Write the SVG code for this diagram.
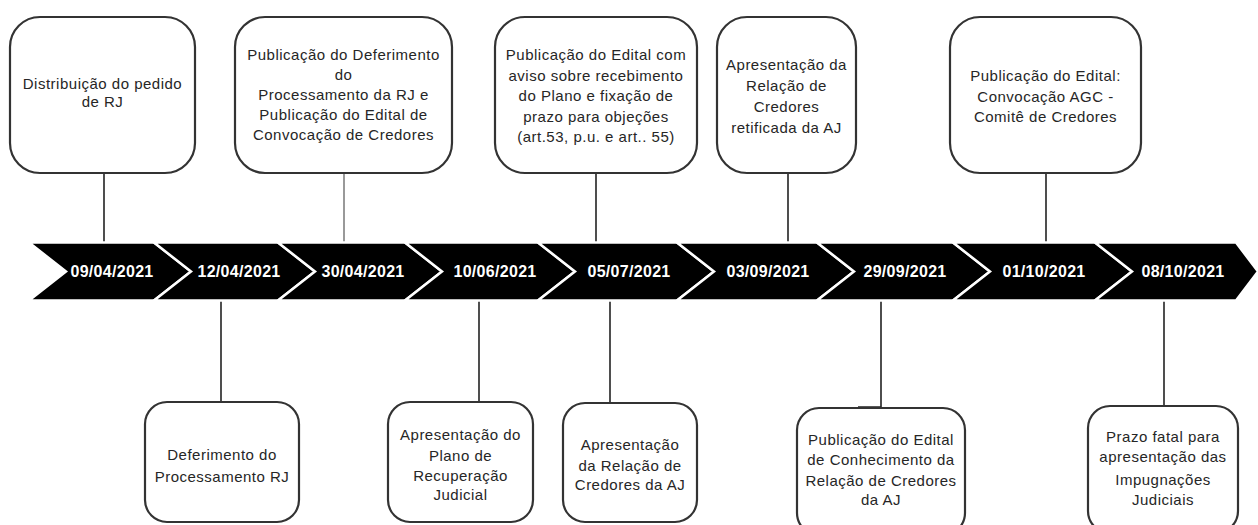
<svg xmlns="http://www.w3.org/2000/svg" width="1258" height="525" viewBox="0 0 1258 525">
<style>
.box{fill:#fff;stroke:#333;stroke-width:2.2}
.lbl{font-family:"Liberation Sans",Arial,sans-serif;font-size:15px;fill:#262626;text-anchor:middle;letter-spacing:0.5px}
.chev{fill:#000;stroke:#fff;stroke-width:2.5;stroke-linejoin:miter}
.date{font-family:"Liberation Sans",Arial,sans-serif;font-size:16px;font-weight:bold;fill:#fff;text-anchor:middle;letter-spacing:0.3px}
.con{fill:none;stroke:#222;stroke-width:1.6}
</style>
<rect width="1258" height="525" fill="#fff"/>
<g id="connectors">
<path class="con" d="M104,173V243"/>
<path class="con" d="M344,173V243" style="stroke:#999;stroke-width:2"/>
<path class="con" d="M596,173V243"/>
<path class="con" d="M788,173V243"/>
<path class="con" d="M1046,173V243"/>
<path class="con" d="M221,300V402"/>
<path class="con" d="M479,300V402"/>
<path class="con" d="M610,300V403"/>
<path class="con" d="M881,300V407H858"/>
<path class="con" d="M1164,300V406"/>
</g>
<g id="timeline">
<polygon class="chev" points="29,242.5 154,242.5 191,271.5 154,300.5 29,300.5 66,271.5"/>
<polygon class="chev" points="154,242.5 278,242.5 315,271.5 278,300.5 154,300.5 191,271.5"/>
<polygon class="chev" points="278,242.5 405,242.5 442,271.5 405,300.5 278,300.5 315,271.5"/>
<polygon class="chev" points="405,242.5 538,242.5 575,271.5 538,300.5 405,300.5 442,271.5"/>
<polygon class="chev" points="538,242.5 677,242.5 714,271.5 677,300.5 538,300.5 575,271.5"/>
<polygon class="chev" points="677,242.5 817,242.5 854,271.5 817,300.5 677,300.5 714,271.5"/>
<polygon class="chev" points="817,242.5 953,242.5 990,271.5 953,300.5 817,300.5 854,271.5"/>
<polygon class="chev" points="953,242.5 1095,242.5 1132,271.5 1095,300.5 953,300.5 990,271.5"/>
<polygon class="chev" points="1095,242.5 1236,242.5 1258,271.5 1236,300.5 1095,300.5 1132,271.5"/>
<text class="date" x="112" y="277">09/04/2021</text>
<text class="date" x="239" y="277">12/04/2021</text>
<text class="date" x="363" y="277">30/04/2021</text>
<text class="date" x="495" y="277">10/06/2021</text>
<text class="date" x="629" y="277">05/07/2021</text>
<text class="date" x="768" y="277">03/09/2021</text>
<text class="date" x="905" y="277">29/09/2021</text>
<text class="date" x="1044" y="277">01/10/2021</text>
<text class="date" x="1183" y="277">08/10/2021</text>
</g>
<g id="n1">
<rect class="box" x="10" y="17" width="185" height="156" rx="30"/>
<text class="lbl" x="102.5" y="89">Distribuição do pedido</text>
<text class="lbl" x="102.5" y="107">de RJ</text>
</g>
<g id="n2">
<rect class="box" x="235" y="17" width="217" height="156" rx="30"/>
<text class="lbl" x="343.5" y="60">Publicação do Deferimento</text>
<text class="lbl" x="343.5" y="80">do</text>
<text class="lbl" x="343.5" y="100">Processamento da RJ e</text>
<text class="lbl" x="343.5" y="120">Publicação do Edital de</text>
<text class="lbl" x="343.5" y="140">Convocação de Credores</text>
</g>
<g id="n3">
<rect class="box" x="495" y="17" width="202" height="156" rx="30"/>
<text class="lbl" x="596" y="60">Publicação do Edital com</text>
<text class="lbl" x="596" y="80.5">aviso sobre recebimento</text>
<text class="lbl" x="596" y="101">do Plano e fixação de</text>
<text class="lbl" x="596" y="121.5">prazo para objeções</text>
<text class="lbl" x="596" y="142">(art.53, p.u. e art.. 55)</text>
</g>
<g id="n4">
<rect class="box" x="717" y="17" width="139" height="156" rx="30"/>
<text class="lbl" x="786.5" y="70">Apresentação da</text>
<text class="lbl" x="786.5" y="91">Relação de</text>
<text class="lbl" x="786.5" y="112">Credores</text>
<text class="lbl" x="786.5" y="133">retificada da AJ</text>
</g>
<g id="n5">
<rect class="box" x="950" y="17" width="191" height="156" rx="30"/>
<text class="lbl" x="1045.5" y="81">Publicação do Edital:</text>
<text class="lbl" x="1045.5" y="101.5">Convocação AGC -</text>
<text class="lbl" x="1045.5" y="122">Comitê de Credores</text>
</g>
<g id="n6">
<rect class="box" x="145" y="402" width="154" height="120" rx="22"/>
<text class="lbl" x="222" y="460">Deferimento do</text>
<text class="lbl" x="222" y="482">Processamento RJ</text>
</g>
<g id="n7">
<rect class="box" x="388" y="402" width="145" height="120" rx="22"/>
<text class="lbl" x="460.5" y="440">Apresentação do</text>
<text class="lbl" x="460.5" y="461">Plano de</text>
<text class="lbl" x="460.5" y="481">Recuperação</text>
<text class="lbl" x="460.5" y="500">Judicial</text>
</g>
<g id="n8">
<rect class="box" x="563" y="403" width="134" height="119" rx="22"/>
<text class="lbl" x="630" y="450">Apresentação</text>
<text class="lbl" x="630" y="471">da Relação de</text>
<text class="lbl" x="630" y="490">Credores da AJ</text>
</g>
<g id="n9">
<rect class="box" x="797" y="408" width="168" height="127" rx="22"/>
<text class="lbl" x="881" y="445">Publicação do Edital</text>
<text class="lbl" x="881" y="465">de Conhecimento da</text>
<text class="lbl" x="881" y="486">Relação de Credores</text>
<text class="lbl" x="881" y="505">da AJ</text>
</g>
<g id="n10">
<rect class="box" x="1088" y="406" width="150" height="127" rx="22"/>
<text class="lbl" x="1163" y="442">Prazo fatal para</text>
<text class="lbl" x="1163" y="462">apresentação das</text>
<text class="lbl" x="1163" y="485">Impugnações</text>
<text class="lbl" x="1163" y="505">Judiciais</text>
</g>
</svg>
